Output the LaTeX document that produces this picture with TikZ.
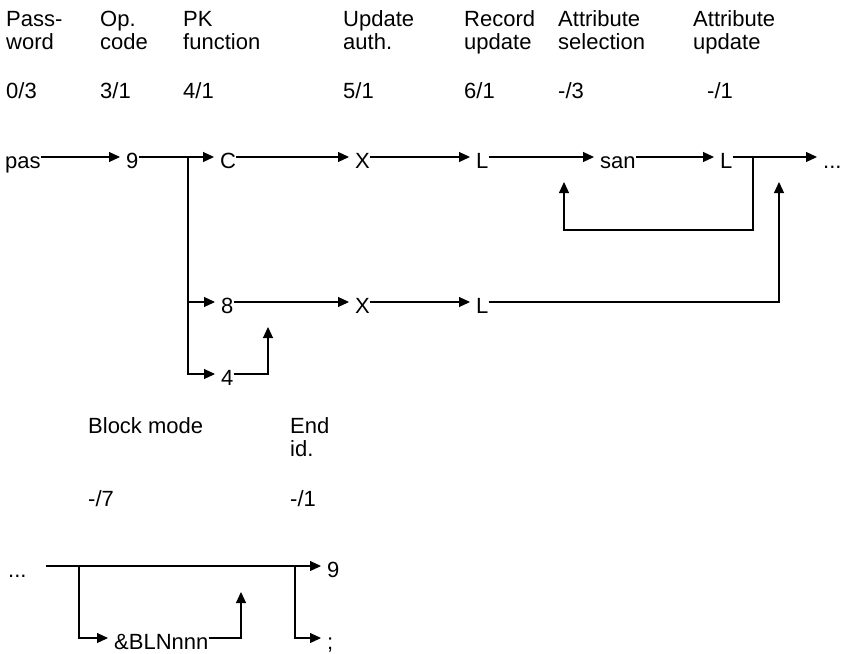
\documentclass[tikz,border=0pt]{standalone}
\usepackage{fontspec}
\setmainfont{Liberation Sans}
\usetikzlibrary{arrows.meta}
\newcommand{\twoline}[2]{\begin{tabular}[t]{@{}l@{}}#1\\#2\end{tabular}}
\begin{document}
\begin{tikzpicture}[x=1pt,y=-1pt,
  every node/.style={font=\fontsize{22}{23}\selectfont, inner sep=0pt},
  tok/.style={anchor=west, text height=22pt, text depth=0pt},
  lbl/.style={anchor=base west},
  wire/.style={line width=1.1pt},
  flowc/.style={wire, -{Triangle[length=11pt,width=10pt]}},
  flow/.style={flowc, shorten >=6pt}
]
\useasboundingbox (0,0) rectangle (842,653);

% field headings and positions
\node[lbl] (hpw)  at (6,26)   {\twoline{Pass-}{word}};
\node[lbl] (hop)  at (100,26) {\twoline{Op.}{code}};
\node[lbl] (hpk)  at (183,26) {\twoline{PK}{function}};
\node[lbl] (hua)  at (343,26) {\twoline{Update}{auth.}};
\node[lbl] (hru)  at (464,26) {\twoline{Record}{update}};
\node[lbl] (has)  at (558,26) {\twoline{Attribute}{selection}};
\node[lbl] (hau)  at (693,26) {\twoline{Attribute}{update}};

\node[lbl] (vpw) at (6,98)   {0/3};
\node[lbl] (vop) at (100,98) {3/1};
\node[lbl] (vpk) at (183,98) {4/1};
\node[lbl] (vua) at (343,98) {5/1};
\node[lbl] (vru) at (464,98) {6/1};
\node[lbl] (vas) at (558,98) {-/3};
\node[lbl] (vau) at (707,98) {-/1};

% main path
\node[tok] (pas)  at (5,157)   {pas};
\node[tok] (n9)   at (126,157) {9};
\node[tok] (c)    at (220,157) {C};
\node[tok] (x1)   at (355,157) {X};
\node[tok] (l1)   at (476,157) {L};
\node[tok] (san)  at (600,157) {san};
\node[tok] (l2)   at (720,157) {L};
\node[tok] (more) at (823,157) {...};

% alternative PK functions
\node[tok] (n8) at (221,302) {8};
\node[tok] (x2) at (355,302) {X};
\node[tok] (l3) at (476,302) {L};
\node[tok] (n4) at (221,374) {4};

\coordinate (fork)    at (188,157);
\coordinate (up4)     at (268,327);
\coordinate (loopbot) at (753,230);
\coordinate (looptip) at (564,182);
\coordinate (rejoin)  at (779,182);

\draw[flow] (pas) -- (n9);
\draw[flow] (n9) -- (c);
\draw[flow] (c) -- (x1);
\draw[flow] (x1) -- (l1);
\draw[flow] (l1) -- (san);
\draw[flow] (san) -- (l2);
\draw[flow] (l2) -- (more);
\draw[flowc] (l2.east) -| (loopbot) -| (looptip);

\draw[flow] (fork) |- (n4);
\draw[flow] (fork |- n8) -- (n8);
\draw[flowc] (n4) -| (up4);
\draw[flow] (n8) -- (x2);
\draw[flow] (x2) -- (l3);
\draw[flowc] (l3) -| (rejoin);

% block mode and end id.
\node[lbl] (hbm)  at (88,433)  {Block mode};
\node[lbl] (hend) at (290,433) {\twoline{End}{id.}};
\node[lbl] (vbm)  at (88,506)  {-/7};
\node[lbl] (vend) at (290,506) {-/1};

\node[tok] (cont) at (8,566)    {...};
\node[tok] (b9)   at (327,566)  {9};
\node[tok] (bln)  at (114,638)  {\&BLNnnn};
\node[tok] (semi) at (327,638)  {;};

\coordinate (start) at (46,566);
\coordinate (bfork) at (79,566);
\coordinate (efork) at (295,566);
\coordinate (blnup) at (241,592);

\draw[flow] (start) -- (b9);
\draw[flow] (bfork) |- (bln);
\draw[flowc] (bln) -| (blnup);
\draw[flow] (efork) |- (semi);
\end{tikzpicture}
\end{document}
